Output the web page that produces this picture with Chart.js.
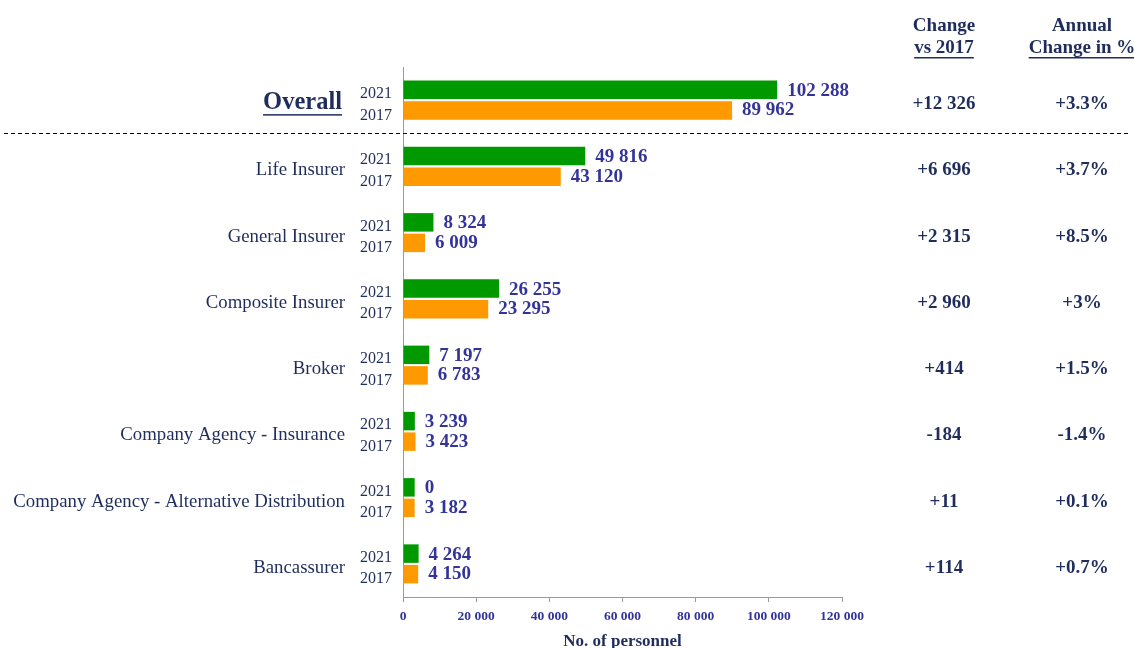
<!DOCTYPE html>
<html>
<head>
<meta charset="utf-8">
<script src="https://cdn.jsdelivr.net/npm/chart.js@4/dist/chart.umd.min.js"></script>
<style>
  html, body { margin: 0; padding: 0; background: #fff; }
  #wrap { width: 1134px; height: 648px; position: relative; }
</style>
</head>
<body>
<div id="wrap"><canvas id="chart" width="1134" height="648"></canvas></div>
<script>
const categories = ['Overall', 'Life Insurer', 'General Insurer', 'Composite Insurer', 'Broker',
    'Company Agency - Insurance', 'Company Agency - Alternative Distribution', 'Bancassurer'];
const values2021 = [102288, 49816, 8324, 26255, 7197, 3239, 3193, 4264];
const values2017 = [89962, 43120, 6009, 23295, 6783, 3423, 3182, 4150];
const changeVs2017 = ['+12 326', '+6 696', '+2 315', '+2 960', '+414', '-184', '+11', '+114'];
const annualChange = ['+3.3%', '+3.7%', '+8.5%', '+3%', '+1.5%', '-1.4%', '+0.1%', '+0.7%'];
const xTicks = [0, 20000, 40000, 60000, 80000, 100000, 120000];

function fmt(n) {
    return String(n).replace(/\B(?=(\d{3})+(?!\d))/g, ' ');
}

// the source shows "0" for the alternative distribution 2021 bar
const labels2021 = values2021.map(fmt);
labels2021[6] = '0';
const labels2017 = values2017.map(fmt);

const NAVY = '#1f2d5c';
const VALUE = '#333399';
const SERIF = '"Liberation Serif", "Times New Roman", serif';

const extras = {
    id: 'extras',
    afterDatasetsDraw(chart) {
        const ctx = chart.ctx;
        const y = chart.scales.y;
        ctx.save();

        // headers
        ctx.fillStyle = NAVY;
        ctx.font = 'bold 19px ' + SERIF;
        ctx.textAlign = 'center';
        ctx.textBaseline = 'middle';
        const heads = [[944, 'Change', 'vs 2017'], [1082, 'Annual', 'Change in %']];
        heads.forEach(h => {
            ctx.fillText(h[1], h[0], 26);
            ctx.fillText(h[2], h[0], 48);
            const w = ctx.measureText(h[2]).width;
            ctx.fillRect(h[0] - w / 2, 57, w, 1.5);
        });

        const m0 = chart.getDatasetMeta(0);
        const m1 = chart.getDatasetMeta(1);
        categories.forEach((c, i) => {
            const cy = y.getPixelForValue(i);
            // category name
            ctx.fillStyle = NAVY;
            ctx.textAlign = 'right';
            if (i === 0) {
                ctx.font = 'bold 24.5px ' + SERIF;
                ctx.fillText(c, 342, cy + 3);
                const w = ctx.measureText(c).width;
                ctx.fillRect(342 - w, cy + 14, w, 1.5);
            } else {
                ctx.font = '18.8px ' + SERIF;
                ctx.fillText(c, 345, cy + 4);
            }
            // year labels
            const b0 = m0.data[i], b1 = m1.data[i];
            ctx.font = '16px ' + SERIF;
            ctx.fillText('2021', 392, b0.y + 4);
            ctx.fillText('2017', 392, b1.y + 5);

            // value labels
            ctx.fillStyle = VALUE;
            ctx.textAlign = 'left';
            ctx.font = 'bold 19px ' + SERIF;
            ctx.fillText(labels2021[i], b0.x + 10, b0.y + 1);
            ctx.fillText(labels2017[i], b1.x + 10, b1.y);

            // right-hand columns
            ctx.fillStyle = NAVY;
            ctx.textAlign = 'center';
            ctx.font = 'bold 19px ' + SERIF;
            ctx.fillText(changeVs2017[i], 944, cy + 4);
            ctx.fillText(annualChange[i], 1082, cy + 4);
        });

        // dashed separator under Overall
        const sep = (y.getPixelForValue(0) + y.getPixelForValue(1)) / 2;
        ctx.strokeStyle = '#000';
        ctx.lineWidth = 1;
        ctx.setLineDash([4, 3]);
        ctx.beginPath();
        ctx.moveTo(4, Math.round(sep) + 0.5);
        ctx.lineTo(1128, Math.round(sep) + 0.5);
        ctx.stroke();
        ctx.restore();
    }
};

new Chart(document.getElementById('chart'), {
    type: 'bar',
    data: {
        labels: categories,
        datasets: [{
            label: '2021',
            data: values2021,
            backgroundColor: '#009900',
            categoryPercentage: 0.62,
            barPercentage: 0.9
        }, {
            label: '2017',
            data: values2017,
            backgroundColor: '#ff9900',
            categoryPercentage: 0.62,
            barPercentage: 0.9
        }]
    },
    options: {
        indexAxis: 'y',
        responsive: false,
        animation: false,
        events: [],
        layout: { padding: { left: 403, right: 292, top: 67, bottom: 0 } },
        plugins: { legend: { display: false }, tooltip: { enabled: false } },
        scales: {
            x: {
                min: 0,
                max: 120000,
                afterBuildTicks(axis) { axis.ticks = xTicks.map(v => ({ value: v })); },
                afterFit(axis) { axis.height = 51; },
                grid: { drawOnChartArea: false, drawTicks: true, tickLength: 5, color: '#999' },
                border: { color: '#999' },
                ticks: {
                    color: VALUE,
                    font: { family: SERIF, size: 13.5, weight: 'bold' },
                    padding: 6,
                    maxRotation: 0,
                    callback: v => fmt(v)
                },
                title: {
                    display: true,
                    text: 'No. of personnel',
                    color: NAVY,
                    font: { family: SERIF, size: 17, weight: 'bold' },
                    padding: { top: 4, bottom: -4 }
                }
            },
            y: {
                afterFit(axis) { axis.width = 0; },
                grid: { display: false },
                border: { color: '#999' },
                ticks: { display: false }
            }
        }
    },
    plugins: [extras]
});
</script>
</body>
</html>
